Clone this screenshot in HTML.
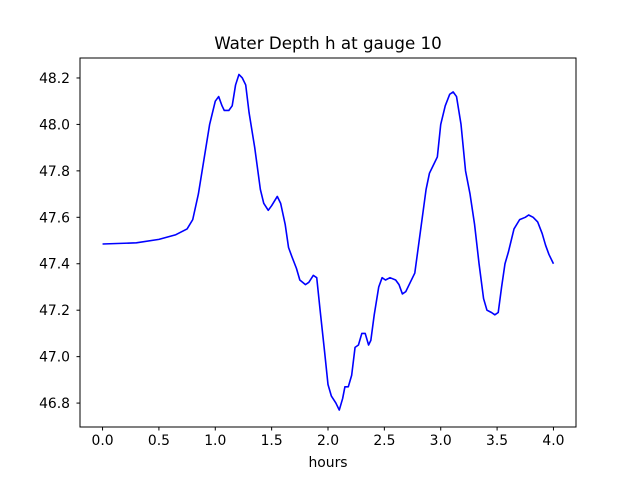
<!DOCTYPE html>
<html><head><meta charset="utf-8"><style>
body{margin:0;background:#fff;font-family:"DejaVu Sans","Liberation Sans",sans-serif;}
svg text{font-family:"DejaVu Sans","Liberation Sans",sans-serif;}
</style></head><body>
<svg id="chart" width="640" height="480" xmlns="http://www.w3.org/2000/svg">
<rect width="640" height="480" fill="#fff"/>
<text x="328" y="49" font-size="16.7" text-anchor="middle">Water Depth h at gauge 10</text>
<g id="plot"></g>
<rect x="80" y="58" width="496" height="369" fill="none" stroke="#000" stroke-width="1"/>
<text x="328" y="467" font-size="13.9" text-anchor="middle">hours</text>
</svg>
<script>
const hours=[0,0.3,0.5,0.65,0.75,0.8,0.85,0.9,0.95,1.0,1.03,1.06,1.08,1.12,1.15,1.18,1.21,1.24,1.27,1.3,1.35,1.4,1.43,1.47,1.5,1.55,1.58,1.62,1.65,1.68,1.72,1.75,1.8,1.83,1.87,1.9,1.93,1.97,2.0,2.03,2.07,2.1,2.13,2.15,2.18,2.21,2.24,2.27,2.3,2.33,2.36,2.38,2.41,2.45,2.48,2.51,2.55,2.6,2.63,2.66,2.69,2.73,2.77,2.82,2.87,2.9,2.93,2.97,3.0,3.04,3.08,3.11,3.14,3.18,3.22,3.26,3.3,3.34,3.38,3.41,3.45,3.48,3.51,3.54,3.57,3.6,3.65,3.7,3.75,3.78,3.82,3.86,3.9,3.93,3.96,4.0];
const depth=[47.485,47.49,47.505,47.525,47.55,47.59,47.7,47.85,48.0,48.1,48.12,48.08,48.06,48.06,48.08,48.17,48.215,48.2,48.17,48.05,47.9,47.72,47.66,47.63,47.65,47.69,47.66,47.57,47.47,47.43,47.38,47.33,47.31,47.32,47.35,47.34,47.2,47.02,46.88,46.83,46.8,46.77,46.82,46.87,46.87,46.92,47.04,47.05,47.1,47.1,47.05,47.07,47.18,47.3,47.34,47.33,47.34,47.33,47.31,47.27,47.28,47.32,47.36,47.54,47.72,47.79,47.82,47.86,48.0,48.08,48.13,48.14,48.12,48.0,47.8,47.7,47.57,47.4,47.25,47.2,47.19,47.18,47.19,47.3,47.4,47.45,47.55,47.59,47.6,47.61,47.6,47.58,47.53,47.48,47.44,47.4];
const xTicks=[0,0.5,1,1.5,2,2.5,3,3.5,4];
const xTickLabels=["0.0","0.5","1.0","1.5","2.0","2.5","3.0","3.5","4.0"];
const yTicks=[46.8,47.0,47.2,47.4,47.6,47.8,48.0,48.2];
const yTickLabels=["46.8","47.0","47.2","47.4","47.6","47.8","48.0","48.2"];
const X=v=>80+(v+0.2)/4.4*496;
const Y=v=>427-(v-46.697)/(48.286-46.697)*369;
const NS="http://www.w3.org/2000/svg",g=document.getElementById('plot');
function mk(t,a){const e=document.createElementNS(NS,t);for(const k in a)e.setAttribute(k,a[k]);g.appendChild(e);return e;}
xTicks.forEach((v,i)=>{
 const l=mk('line',{x1:X(v),x2:X(v),y1:427,y2:430.5,stroke:'#000'});
 
 
 const t=mk('text',{x:X(v),y:445,'font-size':13.9,'text-anchor':'middle'});t.textContent=xTickLabels[i];
 
 
});
yTicks.forEach((v,i)=>{
 const l=mk('line',{x1:76.5,x2:80,y1:Y(v),y2:Y(v),stroke:'#000'});
 
 
 const t=mk('text',{x:70,y:Y(v)+5,'font-size':13.9,'text-anchor':'end'});t.textContent=yTickLabels[i];
 
 
});
const p=mk('polyline',{points:hours.map((h,i)=>X(h)+','+Y(depth[i])).join(' '),fill:'none',stroke:'#0000ff','stroke-width':1.6,'stroke-linejoin':'round'});


</script>
</body></html>
